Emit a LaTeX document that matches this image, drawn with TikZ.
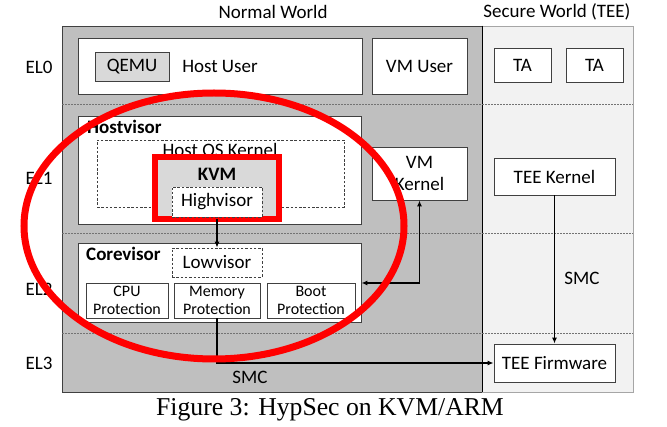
\documentclass[tikz,border=0pt]{standalone}
\usepackage{fontspec}
\setmainfont{Carlito}
\newfontfamily\capfont{Liberation Serif}
\usetikzlibrary{arrows.meta}
\definecolor{nwgray}{HTML}{BFBFBF}
\definecolor{swgray}{HTML}{F2F2F2}
\definecolor{boxgray}{HTML}{D9D9D9}
\definecolor{edge}{HTML}{404040}
\tikzset{
  wbox/.style={draw=edge, fill=white, line width=0.9pt, inner sep=0pt, align=center},
  dbox/.style={draw=edge, fill=white, line width=0.7pt, dash pattern=on 2.5pt off 1.8pt, inner sep=0pt, align=center},
  lbl/.style={inner sep=0pt, font=\fontsize{19}{22}\selectfont},
  small/.style={font=\fontsize{16}{18}\selectfont},
  sep/.style={draw=black!55, line width=0.6pt, dash pattern=on 2pt off 1pt},
  arr/.style={line width=1.2pt, -{Latex[length=6pt,width=5pt]}},
  darr/.style={line width=1.2pt, {Latex[length=6pt,width=5pt]}-{Latex[length=6pt,width=5pt]}},
}
\begin{document}
\begin{tikzpicture}[x=1pt,y=-1pt, font=\fontsize{19}{22}\selectfont]
\useasboundingbox (0,0) rectangle (667,427);
% world backgrounds
\node[draw=black!75, fill=nwgray, line width=0.9pt, minimum width=420, minimum height=366, inner sep=0pt] (nw) at (272,209) {};
\node[draw=black!35, fill=swgray, line width=0.9pt, minimum width=151, minimum height=366, inner sep=0pt] (sw) at (557.5,209) {};
\draw[black, line width=1pt] (nw.north east) -- (nw.south east);
% level separators
\coordinate (s1a) at (62,104); \coordinate (s1b) at (633,104);
\coordinate (s2a) at (62,233); \coordinate (s2b) at (633,233);
\coordinate (s3a) at (62,333); \coordinate (s3b) at (633,333);
\draw[sep] (s1a) -- (s1b);
\draw[sep] (s2a) -- (s2b);
\draw[sep] (s3a) -- (s3b);
% titles
\node[lbl] (tnw) at (273,12) {Normal World};
\node[lbl] (tsw) at (557,12) {Secure World (TEE)};
\node[lbl] (el0) at (39,67) {EL0};
\node[lbl] (el1) at (39,178) {EL1};
\node[lbl] (el2) at (39,289) {EL2};
\node[lbl] (el3) at (39,363) {EL3};
% EL0
\node[wbox, minimum width=284, minimum height=56] (host) at (220,66) {Host User};
\node[draw=edge, fill=boxgray, line width=0.9pt, inner sep=0pt, minimum width=74, minimum height=29] (qemu) at (132,66.5) {QEMU};
\node[wbox, minimum width=95, minimum height=56] (vmu) at (419.5,66) {VM User};
\node[wbox, minimum width=57, minimum height=34] (ta1) at (522.5,65) {TA};
\node[wbox, minimum width=57, minimum height=34] (ta2) at (594.5,65) {TA};
% EL1
\node[wbox, minimum width=283, minimum height=108] (hostv) at (219.5,170) {};
\node[lbl, anchor=west, font=\fontsize{19}{22}\selectfont\bfseries] (hvl) at (87,127) {Hostvisor};
\node[dbox, fill=none, minimum width=247, minimum height=67] (hostos) at (220.5,173.5) {};
\node[lbl] (hosl) at (220,150) {Host OS Kernel};
\node[draw=red, fill=boxgray, line width=6pt, inner sep=0pt, outer sep=0pt, minimum width=124, minimum height=62] (kvm) at (217,188) {};
\node[lbl, font=\fontsize{19}{22}\selectfont\bfseries] (kvml) at (217,174) {KVM};
\node[dbox, minimum width=90, minimum height=30] (highv) at (217,202) {Highvisor};
\node[wbox, minimum width=95, minimum height=53] (vmk) at (419.5,173.5) {VM\\Kernel};
\node[wbox, minimum width=121, minimum height=37] (tk) at (554.5,176.5) {TEE Kernel};
% EL2
\node[wbox, minimum width=283, minimum height=79] (core) at (219.5,282.5) {};
\node[lbl, anchor=west, font=\fontsize{19}{22}\selectfont\bfseries] (cvl) at (86,254) {Corevisor};
\node[dbox, minimum width=90, minimum height=29] (lowv) at (217,262.5) {Lowvisor};
\node[wbox, small, minimum width=82, minimum height=35] (cpu) at (127,300.5) {CPU\\Protection};
\node[wbox, small, minimum width=86, minimum height=35] (mem) at (217,300.5) {Memory\\Protection};
\node[wbox, small, minimum width=88, minimum height=35] (boot) at (311,300.5) {Boot\\Protection};
% EL3
\node[wbox, minimum width=121, minimum height=38] (fw) at (554.5,363) {TEE Firmware};
% connectors
\draw[arr] (kvm.south) -- (lowv.north);
\draw[arr] (mem.south) -- (mem.south |- fw.west) -- (fw.west);
\coordinate (vk) at (419.5,283);
\draw[darr] (core.east |- vk) -- (vk) -- (vmk.south);
\draw[arr] (tk.south) -- (fw.north);
\node[lbl] (smc1) at (250,377) {SMC};
\node[lbl] (smc2) at (582,278) {SMC};
% red ellipse
\draw[red, line width=7pt] (214,226) ellipse [x radius=190, y radius=133];
% caption
\node[inner sep=0pt, font=\capfont\fontsize{25.7}{28}\selectfont] (cap) at (330,410) {Figure 3: HypSec on KVM/ARM};
\end{tikzpicture}
\end{document}
